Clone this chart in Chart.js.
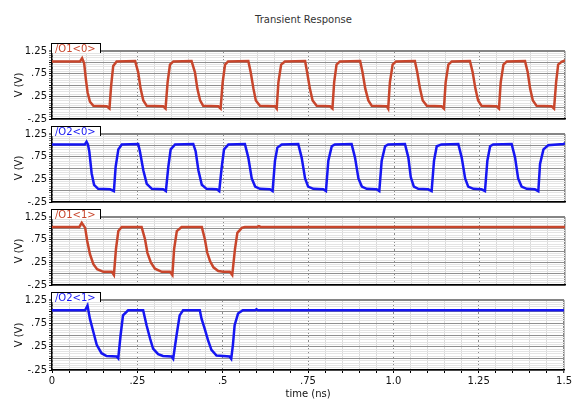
<!DOCTYPE html>
<html lang="en">
  <head>
    <meta charset="UTF-8">
    <meta name="viewport" content="width=device-width, initial-scale=1.0">
    <title>Transient Response</title>
    <script src="https://cdn.jsdelivr.net/npm/chart.js"></script>
    <style>
      body { margin: 0; background: #fff; }
      #pagina { position: relative; width: 574px; height: 399px; overflow: hidden; font-family: "DejaVu Sans", sans-serif; }
      #titulo { position: absolute; left: 47px; width: 513px; top: 14px; text-align: center; font-size: 10px; line-height: 12px; color: #333; }
      .painel { position: absolute; left: 0; width: 574px; }
      .aba { position: absolute; left: 51px; width: 45px; height: 9px; padding-left: 3px; background: #fff;
             border: 1px solid #000; border-bottom: 0; font-size: 10px; line-height: 10px; white-space: nowrap; }
    </style>
  </head>

  <body>
    <div id="pagina">
      <div id="titulo">Transient Response</div>
    </div>

    <script>
      // ticks (ns / V)
      const xTickValues = [0, 0.25, 0.5, 0.75, 1.0, 1.25, 1.5]
      const xTickLabels = ['0', '.25', '.5', '.75', '1.0', '1.25', '1.5']
      const yTickValues = [-0.25, 0.25, 0.75, 1.25]
      const yTickLabels = ['-.25', '.25', '.75', '1.25']

      const traceNames = ['/O1<0>', '/O2<0>', '/O1<1>', '/O2<1>']

      // /O1<0>
      const o10Time = [0, 0.082, 0.088, 0.094, 0.099, 0.104, 0.111, 0.121, 0.160, 0.168, 0.173, 0.179, 0.189, 0.243,
        0.252, 0.259, 0.267, 0.277, 0.325, 0.332, 0.338, 0.345, 0.355, 0.408,
        0.418, 0.425, 0.433, 0.442, 0.486, 0.493, 0.499, 0.506, 0.515, 0.574,
        0.581, 0.589, 0.596, 0.608, 0.652, 0.657, 0.662, 0.670, 0.681, 0.740,
        0.746, 0.754, 0.762, 0.774, 0.813, 0.820, 0.825, 0.832, 0.842, 0.901,
        0.908, 0.916, 0.925, 0.935, 0.979, 0.983, 0.988, 0.996, 1.006, 1.061,
        1.068, 1.076, 1.084, 1.096, 1.139, 1.146, 1.151, 1.159, 1.169, 1.222,
        1.230, 1.238, 1.246, 1.256, 1.300, 1.307, 1.312, 1.320, 1.330, 1.383,
        1.391, 1.398, 1.406, 1.417, 1.461, 1.468, 1.474, 1.480, 1.490, 1.500]
      const o10Volt = [1.02, 1.02, 1.09, 0.98, 0.63, 0.34, 0.13, 0.04, 0.03, -0.02, 0.49, 0.92, 1.02, 1.03,
        0.78, 0.42, 0.16, 0.04, 0.03, -0.02, 0.56, 0.95, 1.02, 1.03,
        0.78, 0.42, 0.16, 0.04, 0.03, -0.02, 0.56, 0.95, 1.02, 1.03,
        0.78, 0.42, 0.16, 0.04, 0.03, -0.02, 0.56, 0.95, 1.02, 1.03,
        0.78, 0.42, 0.16, 0.04, 0.03, -0.02, 0.56, 0.95, 1.02, 1.03,
        0.78, 0.42, 0.16, 0.04, 0.03, -0.02, 0.56, 0.95, 1.02, 1.03,
        0.78, 0.42, 0.16, 0.04, 0.03, -0.02, 0.56, 0.95, 1.02, 1.03,
        0.78, 0.42, 0.16, 0.04, 0.03, -0.02, 0.56, 0.95, 1.02, 1.03,
        0.78, 0.42, 0.16, 0.04, 0.03, -0.02, 0.56, 0.95, 1.01, 1.04]

      // /O2<0>
      const o20Time = [0, 0.096, 0.101, 0.105, 0.109, 0.116, 0.123, 0.135, 0.170, 0.181, 0.186, 0.194, 0.204, 0.252,
        0.257, 0.267, 0.277, 0.292, 0.325, 0.333, 0.340, 0.347, 0.360, 0.413,
        0.420, 0.428, 0.438, 0.452, 0.482, 0.489, 0.496, 0.503, 0.516, 0.564,
        0.574, 0.584, 0.594, 0.608, 0.637, 0.645, 0.652, 0.659, 0.672, 0.720,
        0.730, 0.740, 0.749, 0.764, 0.793, 0.801, 0.808, 0.818, 0.827, 0.876,
        0.886, 0.896, 0.906, 0.920, 0.949, 0.957, 0.964, 0.974, 0.983, 1.032,
        1.042, 1.049, 1.058, 1.071, 1.100, 1.110, 1.117, 1.125, 1.139, 1.188,
        1.198, 1.208, 1.217, 1.232, 1.256, 1.266, 1.273, 1.281, 1.290, 1.344,
        1.354, 1.363, 1.373, 1.388, 1.412, 1.422, 1.427, 1.437, 1.451, 1.495, 1.500]
      const o20Volt = [1.02, 1.02, 1.08, 1.02, 0.87, 0.38, 0.13, 0.04, 0.03, -0.01, 0.52, 0.91, 1.02, 1.03,
        0.87, 0.45, 0.15, 0.04, 0.03, -0.01, 0.52, 0.91, 1.02, 1.03,
        0.87, 0.45, 0.13, 0.04, 0.03, -0.01, 0.50, 0.91, 1.02, 1.03,
        0.73, 0.27, 0.09, 0.04, 0.03, -0.01, 0.66, 0.95, 1.02, 1.03,
        0.73, 0.27, 0.09, 0.04, 0.03, -0.01, 0.66, 0.98, 1.02, 1.03,
        0.73, 0.27, 0.09, 0.04, 0.03, -0.01, 0.66, 0.98, 1.02, 1.03,
        0.73, 0.30, 0.09, 0.04, 0.03, -0.01, 0.66, 0.98, 1.02, 1.03,
        0.73, 0.27, 0.09, 0.04, 0.03, -0.01, 0.66, 0.98, 1.02, 1.03,
        0.73, 0.27, 0.09, 0.04, 0.03, -0.01, 0.59, 0.91, 1.00, 1.03, 1.04]

      // /O1<1>
      const o11Time = [0, 0.080, 0.087, 0.097, 0.103, 0.111, 0.121, 0.132, 0.150, 0.175, 0.181, 0.187, 0.194, 0.204, 0.262,
        0.272, 0.279, 0.289, 0.301, 0.321, 0.345, 0.352, 0.357, 0.365, 0.379, 0.438,
        0.447, 0.454, 0.462, 0.472, 0.486, 0.501, 0.520, 0.527, 0.535, 0.542, 0.555, 0.564, 0.600, 0.605, 0.610, 1.500]
      const o11Volt = [1.03, 1.03, 1.12, 1.01, 0.72, 0.43, 0.21, 0.10, 0.04, 0.04, -0.03, 0.54, 0.94, 1.03, 1.03,
        0.76, 0.46, 0.25, 0.11, 0.04, 0.04, -0.03, 0.54, 0.94, 1.03, 1.03,
        0.76, 0.46, 0.28, 0.14, 0.06, 0.04, 0.04, -0.03, 0.54, 0.90, 1.01, 1.03, 1.03, 1.05, 1.03, 1.03]

      // /O2<1>
      const o21Time = [0, 0.097, 0.104, 0.111, 0.121, 0.131, 0.145, 0.160, 0.189, 0.194, 0.201, 0.208, 0.223, 0.267,
        0.277, 0.287, 0.296, 0.311, 0.325, 0.350, 0.355, 0.365, 0.374, 0.384, 0.433,
        0.438, 0.447, 0.457, 0.467, 0.482, 0.520, 0.525, 0.530, 0.535, 0.545, 0.559, 0.595, 0.599, 0.603, 1.500]
      const o21Volt = [1.03, 1.03, 1.13, 0.85, 0.57, 0.29, 0.11, 0.05, 0.04, 0.00, 0.50, 0.92, 1.03, 1.03,
        0.71, 0.43, 0.21, 0.09, 0.05, 0.04, -0.01, 0.50, 0.92, 1.03, 1.03,
        0.85, 0.64, 0.39, 0.18, 0.06, 0.04, -0.01, 0.29, 0.71, 0.96, 1.03, 1.03, 1.05, 1.03, 1.03]

      const series = [[o10Time, o10Volt], [o20Time, o20Volt], [o11Time, o11Volt], [o21Time, o21Volt]]

      const RED = '#c8462c'
      const BLUE = '#1616f2'
      const traceColors = [RED, BLUE, RED, BLUE]
      const panelTops = [51, 134, 217, 300]
      const PANEL_H = 70
      const fonte = { family: 'DejaVu Sans', size: 10 }

      const near = (a, b) => Math.abs(a - b) < 1e-6
      const labelFor = (v, vals, labels) => {
        const i = vals.findIndex(t => near(t, v))
        return i < 0 ? '' : labels[i]
      }
      const isQuarter = v => near(v * 4, Math.round(v * 4))

      const pagina = document.getElementById('pagina')

      const criarPainel = (i) => {
        const ultimo = i === 3
        const extra = ultimo ? 29 : 6
        const h = 8 + PANEL_H + extra

        const div = document.createElement('div')
        div.className = 'painel'
        div.style.top = (panelTops[i] - 8) + 'px'
        div.style.height = h + 'px'
        const canvas = document.createElement('canvas')
        canvas.width = 574
        canvas.height = h
        div.appendChild(canvas)
        pagina.appendChild(div)

        const aba = document.createElement('div')
        aba.className = 'aba'
        aba.style.top = (panelTops[i] - 8) + 'px'
        aba.style.color = traceColors[i]
        aba.textContent = traceNames[i]
        pagina.appendChild(aba)

        const [tempos, volts] = series[i]
        const pontos = tempos.map((t, k) => ({ x: t, y: volts[k] }))

        new Chart(canvas, {
          type: 'line',
          data: {
            datasets: [{
              data: pontos,
              borderColor: traceColors[i],
              borderWidth: 2.5,
              pointRadius: 0,
              tension: 0,
              fill: false
            }]
          },
          options: {
            responsive: false,
            animation: false,
            events: [],
            layout: { padding: { top: 8, right: 9, bottom: 0, left: 0 } },
            plugins: { legend: { display: false }, tooltip: { enabled: false } },
            scales: {
              x: {
                type: 'linear',
                min: 0,
                max: 1.5,
                afterFit: s => { s.height = extra },
                ticks: {
                  display: ultimo,
                  stepSize: 0.05,
                  autoSkip: false,
                  maxRotation: 0,
                  padding: 2,
                  color: '#111',
                  font: fonte,
                  callback: v => labelFor(v, xTickValues, xTickLabels)
                },
                grid: {
                  color: ctx => {
                    const v = ctx.tick.value
                    if (near(v, 1.5)) return '#808080'
                    return isQuarter(v) ? '#8a8a8a' : '#dadada'
                  },
                  lineWidth: ctx => near(ctx.tick.value, 1.5) ? 1.5 : 1,
                  drawTicks: ultimo,
                  tickLength: 3,
                  tickColor: '#000',
                  tickWidth: 1
                },
                border: {
                  color: '#000',
                  width: 1.5,
                  dash: ctx => (ctx.type === 'tick' && isQuarter(ctx.tick.value) && !near(ctx.tick.value, 1.5)) ? [2, 2] : []
                },
                title: {
                  display: ultimo,
                  text: 'time (ns)',
                  color: '#111',
                  font: { family: 'DejaVu Sans', size: 10, lineHeight: 1 },
                  padding: { top: 0, bottom: 0 }
                }
              },
              y: {
                min: -0.25,
                max: 1.25,
                afterFit: s => { s.width = 52 },
                ticks: {
                  stepSize: 0.05,
                  autoSkip: false,
                  padding: 2,
                  color: '#111',
                  font: fonte,
                  callback: v => labelFor(v, yTickValues, yTickLabels)
                },
                grid: {
                  color: ctx => {
                    const v = ctx.tick.value
                    if (near(v, 1.25)) return '#858585'
                    return isQuarter(v) ? '#8f8f8f' : '#e4e4e4'
                  },
                  lineWidth: ctx => near(ctx.tick.value, 1.25) ? 2 : 1,
                  tickLength: 3,
                  tickColor: ctx => isQuarter(ctx.tick.value) ? '#000' : '#777',
                  tickWidth: 1
                },
                border: { color: '#000', width: 1.5 },
                title: {
                  display: true,
                  text: 'V (V)',
                  color: '#111',
                  font: fonte,
                  padding: { top: 13, bottom: 0 }
                }
              }
            }
          }
        })
      }

      for (let i = 0; i < 4; i++) criarPainel(i)
    </script>
  </body>
</html>
